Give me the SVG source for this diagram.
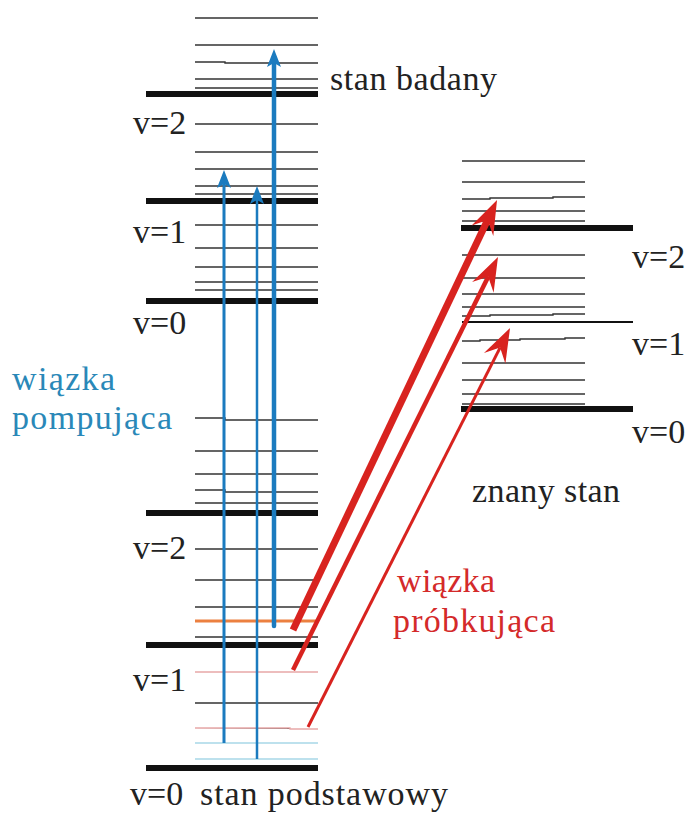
<svg xmlns="http://www.w3.org/2000/svg" width="688" height="813" viewBox="0 0 688 813" font-family="Liberation Serif, Times New Roman, serif">
<style>
text{font-size:34px;fill:#222}
.t{stroke:#333;stroke-width:1.4;fill:none}
.k{stroke:#111;stroke-width:6;fill:none}
.bl{stroke:#1b7bbf;fill:none}
.rd{stroke:#d8231f;fill:none}
.bt{fill:#2a88b8}
.rt{fill:#d42a2a}
</style>
<defs>
<marker id="ab" markerUnits="userSpaceOnUse" viewBox="-19 -8 20 16" markerWidth="20" markerHeight="16" refX="-14" refY="0" orient="auto">
<path d="M0,0 L-18,-7 L-14,0 L-18,7 Z" fill="#1b7bbf"/>
</marker>
<marker id="ar" markerUnits="userSpaceOnUse" viewBox="-36 -14 37 28" markerWidth="37" markerHeight="28" refX="-22" refY="0" orient="auto">
<path d="M0,0 L-34,-12 L-22,0 L-34,12 Z" fill="#d8231f"/>
</marker>
</defs>

<g id="upper-state">
<path class="t" d="M195,18H318M195,45H318M195,62H225V63H318M195,79H318M195,88H318M195,124H318M195,152H318M195,169H318M195,186H318M195,194H318M195,225H318M195,248H318M195,267H318M195,282H318M195,290H318"/>
<path class="k" d="M146,94H318M146,201H318M146,301H318"/>
<text x="330" y="90" textLength="167">stan badany</text>
<text x="133" y="134">v=2</text>
<text x="133" y="243">v=1</text>
<text x="133" y="334">v=0</text>
</g>

<g id="ground-state">
<path class="t" d="M195,418H225V420H318M195,451H318M195,474H318M195,490H225V492H318M195,503H318M195,549H318M195,580H318M195,607H318M195,637H318M195,703H318"/>
<path stroke="#ec8040" stroke-width="3" d="M195,621H318"/>
<path stroke="#e8a8a8" stroke-width="1.4" d="M195,672H318M195,728H290V729H318"/>
<path stroke="#a8d8e8" stroke-width="1.4" d="M195,743H318M195,759H318"/>
<path class="k" d="M146,513H318M146,645H318M146,768H318"/>
<text x="133" y="559">v=2</text>
<text x="133" y="691">v=1</text>
<text x="130" y="805">v=0</text>
<text x="200" y="805" textLength="248">stan podstawowy</text>
</g>

<g id="known-state">
<path class="t" d="M462,161H585M462,182H585M462,199H490V198H553V197H585M462,211H585M462,221H585M462,255H585M462,278H585M462,294H585M462,307H585M462,316H490V315H553V314H585M462,341H480V340H520V339H565V338H585M462,363H585M462,380H585M462,394H585M462,404H585"/>
<path stroke="#111" stroke-width="2" d="M462,322H633"/>
<path class="k" d="M461,228H633M461,409H633"/>
<text x="632" y="268">v=2</text>
<text x="632" y="355">v=1</text>
<text x="632" y="443">v=0</text>
<text x="472" y="502" textLength="148">znany stan</text>
</g>

<g id="pump-label">
<text class="bt" x="12" y="390" textLength="103">wiązka</text>
<text class="bt" x="12" y="429" textLength="160">pompująca</text>
</g>

<g id="probe-label">
<text class="rt" x="397" y="592" textLength="98">wiązka</text>
<text class="rt" x="393" y="632" textLength="162">próbkująca</text>
</g>

<g id="connectors">
<line class="bl" x1="224" y1="743" x2="224" y2="184" stroke-width="3" marker-end="url(#ab)"/>
<line class="bl" x1="257" y1="759" x2="257" y2="200" stroke-width="2.5" marker-end="url(#ab)"/>
<line class="bl" x1="274" y1="626" x2="274" y2="63" stroke-width="4.5" stroke-linecap="round" marker-end="url(#ab)"/>
<line class="rd" x1="293" y1="630" x2="487.6" y2="219.9" stroke-width="7" marker-end="url(#ar)"/>
<line class="rd" x1="293" y1="670" x2="488.2" y2="276.7" stroke-width="4.5" marker-end="url(#ar)"/>
<line class="rd" x1="308" y1="727" x2="500.1" y2="347.6" stroke-width="3" marker-end="url(#ar)"/>
</g>
</svg>
